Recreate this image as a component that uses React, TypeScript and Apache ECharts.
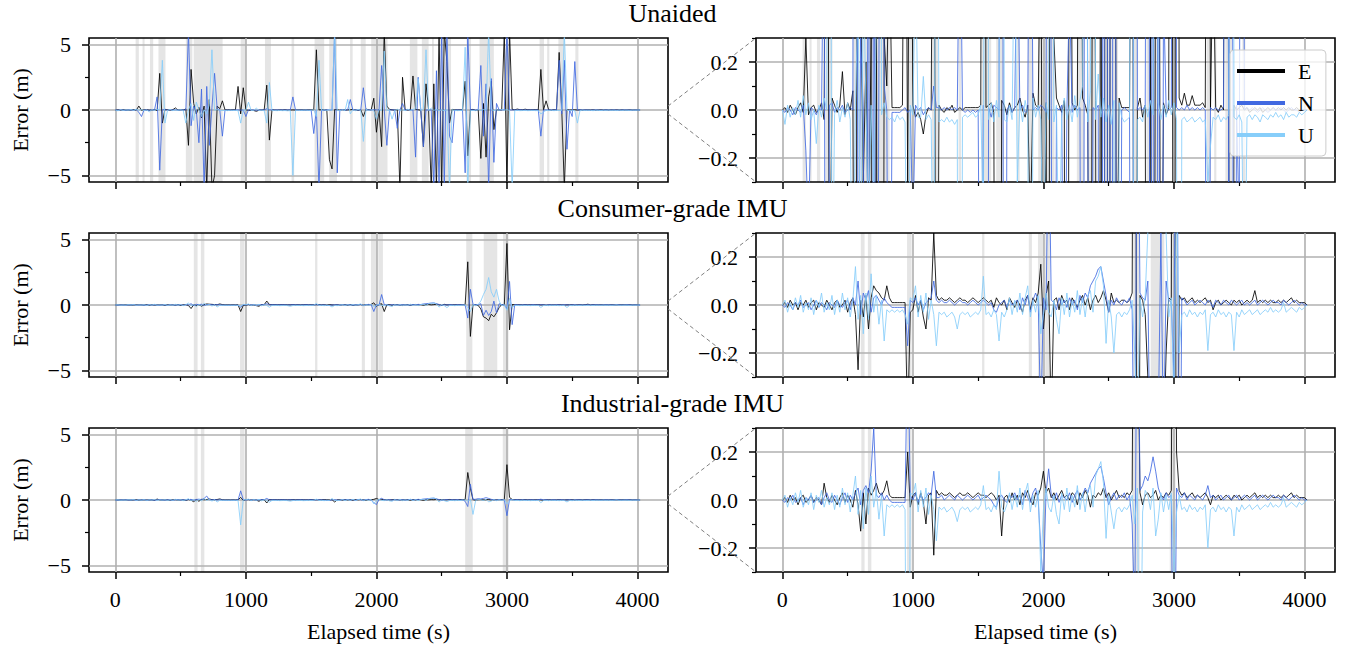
import React, { useEffect, useRef } from 'react';
import * as echarts from 'echarts';

// ---------- data ----------
const TIME_STEP = 20; // seconds between samples

const COMPONENTS = ['E', 'N', 'U'];
const COLORS = ['#000000', '#4169e1', '#87cefa'];
const TITLES = ['Unaided', 'Consumer-grade IMU', 'Industrial-grade IMU'];

const X_MIN = -202;
const X_MAX = 4234;
const X_MAJOR = [0, 1000, 2000, 3000, 4000];
const X_MINOR = [500, 1500, 2500, 3500];

const WIDE_RANGE = [-5.5, 5.5];
const WIDE_MAJOR = [-5, 0, 5];
const WIDE_MINOR = [-2.5, 2.5];
const ZOOM_RANGE = [-0.3, 0.3];
const ZOOM_MAJOR = [-0.2, 0, 0.2];
const ZOOM_MINOR = [-0.3, -0.1, 0.1, 0.3];

const UNAIDED_E = [
  0, 0.01, -0.01, 0.02, 0, -0.02, 0.01, 0.03, -0.01, 0.3,
  -0.02, 0.01, 0.02, -0.01, 0, 0.03, -0.04, 2.8, -1.0, 0.05,
  0.02, -0.01, 0.02, 0.16, -0.02, 0.03, 0, 0.08, -2.7, 3.1,
  0.5, -0.3, 0.2, -0.6, 0.3, -6, 0.8, -6, -5, 0.3,
  0.1, 0.7, 0.01, 0.01, 0.01, 0.01, 0.02, 1.8, -0.3, 1.7,
  0.02, -0.03, -0.01, -0.04, -0.1, -0.02, 0.01, 0, 1.9, -2.3,
  0.02, 0, -0.01, 0.01, 0, 0.02, -0.01, 0, 0.01, 0,
  0.01, 0.01, 0.01, 0.01, 0.01, 0.01, 0.02, 4.6, 0.01, 0.02,
  0.03, -0.01, -3.8, -4.5, 0.04, 0.02, -0.02, 0.03, -0.01, 0.01,
  0.02, 0.05, 0, -0.03, 0.02, -0.5, 0.07, 0.02, 0.01, 0.9,
  -1.7, 0.03, -2.8, 6, 0.3, 0.05, 0.02, -0.01, 0.04, -6,
  2.5, 0.03, 0, 0.02, 2.6, 0.05, 0.02, -0.02, -2.8, 2.0,
  0.04, -6, 2.0, -6, 6, -6, 6, 3.7, -1.0, 0.05,
  0.01, 0.01, 0.01, 0.01, 2.2, -3.5, 0.01, 0.05, -0.03, 0.02,
  -3.7, 0.5, -3.6, 1.0, 2.2, -1.5, 0.03, -0.02, 0.01, 6,
  -6, 6, 0.05, 0.02, 0.07, 0.02, 0.02, 0.06, 0.02, 0.02,
  0.02, 0.03, 0.01, 3.1, 0, 0.7, 0.01, -0.01, 0.02, 0,
  4.4, 0.03, -6, 0.02, 0, 0.01, 0.02, 0, 0.01, -0.01,
  0, 0.01, 0, 0.01, -0.01, 0, 0.01, 0, 0.01, 0,
  0.01, 0, 0.01, 0, 0.01, 0, 0, 0.01, 0, 0,
  0, 0,
];
const UNAIDED_N = [
  0, -0.01, 0.01, 0, -0.02, 0.01, 0, -0.01, 0.02, -0.17,
  -0.5, 0.01, 0, -0.02, 0.01, 0, 1.0, -4.6, 0.02, 0.03,
  -0.01, 0.01, 0, 0.02, -0.01, 0, 0.01, 0, 6, -1.2,
  0.3, 0, -2.5, 1.6, -6, 1.8, -2.7, 0.2, 2.8, 0.1,
  0, -2.0, -0.01, -0.01, -0.01, -0.01, 0, 0.01, -0.01, 0,
  -0.5, 0.02, 0, 0.01, -0.02, 0, 0.01, 0, 0.1, 0.01,
  0.01, 0, 0.01, 0, 0.01, 0, 0.01, 0, 1.0, 0,
  -0.01, 0, -0.01, 0, -0.01, 0, -1.8, 0.02, -6, 0.01,
  -0.03, 0.02, 0.01, 0, 6, -4.8, 0, 0.02, -0.01, 0.01,
  0.8, 0, 0.02, -0.01, 0, 1.7, 0, 0.01, 0, 0.02,
  0.01, -0.01, 3.4, 0.02, -2.7, 0.01, 0, 0.02, -1.4, 0,
  0.5, -0.01, 0.02, 0, 0.01, -3.6, 2.5, 0, -2.8, 0.01,
  0, 0.02, -6, 3.0, -6, 6, -6, 6, -2.0, -2.5,
  0, 0.01, 0, -0.01, -4.8, 6, 0, 0.01, 0, 0.02,
  3.4, -2.0, 2.0, -6, 2.4, -4.0, 0.5, 0.01, 0, 0.01,
  6, 0.01, 0, 0.01, 0, 0.02, 0, 0.01, 0, 0.01,
  0, 0.01, 0, -2.0, 0.01, 0, 0.01, 0, 0, 0.01,
  3.8, -0.3, 3.8, -3.0, 0.02, -0.5, 3.7, 0, 0.01, 0,
  0.01, 0, -0.01, 0, 0.01, 0, -0.01, 0, 0.01, 0,
  0, 0.01, 0, -0.01, 0, 0.01, 0, 0, -0.01, 0,
  0, 0,
];
const UNAIDED_U = [
  0, -0.06, 0.02, -0.03, 0.01, -0.02, 0.04, -0.03, 0.06, -0.02,
  0.03, -0.04, 0, -0.14, 0.02, -0.03, 0.05, 0, 3.8, -1.0,
  -0.02, 0.04, -0.05, 0.01, -0.03, 0.03, -0.04, -1.0, 0.02, 0.5,
  -0.8, 0.6, 0.03, -0.5, 0.02, -0.3, 0.4, 4.6, -0.02, 0.03,
  -0.03, -0.04, -0.03, -0.05, -0.02, -0.04, -0.03, -0.05, -1.0, 0.02,
  -0.02, 0.6, -0.03, -0.03, 0.14, -0.04, -0.02, -0.04, -1.0, 2.1,
  -0.05, -0.04, -0.05, -0.03, -0.05, -0.04, -0.06, -0.04, -5, -0.03,
  -0.02, -0.03, -0.02, -0.01, -0.03, -0.02, 0.02, -0.5, 3.8, -0.04,
  0.03, -0.05, 0.04, -0.03, 6, -0.04, -0.05, 0.02, -0.04, 0.8,
  -0.3, 0.03, -0.05, 0.04, -0.02, -2.4, 0.05, -0.03, 0.02, -0.04,
  -0.7, 0.03, -0.04, 4.5, -0.05, 0.02, -0.7, -0.03, 0.05, -0.04,
  0.02, -0.05, 0.06, -0.03, 0.04, 0.1, 2.4, -0.05, 0.08, 4.6,
  -0.04, 0.15, -0.03, 0.05, -0.05, 0.02, -0.06, 0.04, -6, 0.03,
  -0.03, -0.05, -0.04, -0.03, 4.8, -6, -0.04, -0.03, -0.05, 0.02,
  -0.03, 0.04, -0.02, 6, 0.03, -0.04, 0.02, -0.03, 0.04, -0.02,
  0.03, -0.04, -6, -0.04, -0.03, -0.05, -0.04, -0.03, -0.05, -0.04,
  -0.03, -0.05, -0.04, -0.3, -0.15, -0.03, -0.04, -0.02, -0.05, -0.03,
  -0.04, -0.02, 6, -0.03, -0.04, -0.02, -0.05, -1.0, -0.03, -0.02,
  -0.04, -0.02, -0.03, -0.05, -0.02, -0.03, -0.04, -0.02, -0.03, -0.01,
  -0.03, -0.02, -0.04, -0.01, -0.03, -0.02, -0.02, -0.03, -0.01, -0.02,
  -0.01, 0,
];

const CONSUMER_E = [
  0, 0.01, -0.01, 0.02, 0, 0.01, -0.02, 0.01, 0, 0.02,
  -0.01, 0.01, 0.02, -0.02, 0.01, 0, -0.01, 0.02, 0, -0.02,
  0.01, 0.02, -0.01, 0, 0.02, -0.03, 0.01, 0.03, -0.04, -0.27,
  0.02, -0.05, 0.04, -0.1, 0.03, 0.08, 0.06, 0.05, 0.03, 0.02,
  0.08, 0.03, 0.01, 0.01, 0.01, 0.01, 0.01, 0.01, -0.5, -0.03,
  -0.02, 0.04, -0.03, 0.02, -0.05, -0.1, 0.03, 0.02, 0.3, 0.04,
  0.02, 0.03, 0.02, 0.02, 0.03, 0.02, 0.01, 0.02, 0.03, 0.02,
  0.02, 0.01, 0.02, 0.03, 0.02, 0.01, 0.02, 0.03, 0.02, 0.01,
  0.02, -0.01, 0.03, 0.01, 0, 0.02, -0.02, 0.03, 0.01, -0.01,
  0.02, 0, -0.03, 0.02, 0.04, -0.02, 0.03, 0.01, 0.05, 0.17,
  -0.1, 0.04, 0.1, -0.5, 0.02, 0.03, -0.02, 0.04, 0.01, 0.02,
  -0.02, 0.03, 0.01, -0.01, 0.02, 0.04, 0, 0.03, -0.02, 0.02,
  0.04, 0.01, 0.03, 0.06, 0.02, -0.03, 0.05, 0.01, 0.02, 0.01,
  0.02, 0.02, 0.01, 0.02, 0.05, 3.3, -2.4, 0.04, 0.02, -0.04,
  -0.3, -0.9, -1.0, -1.2, -0.7, -0.9, -0.6, -0.2, 0.03, 0.02,
  4.7, -1.9, 0.04, 0.02, 0.03, 0.01, 0.02, 0.03, 0.01, 0.02,
  0.01, 0.02, 0.03, 0.01, 0.02, -0.02, 0.01, 0.02, 0, 0.01,
  0.02, 0.01, 0, 0.02, 0.01, 0.02, 0, 0.01, 0.02, 0.01,
  0.02, 0.06, 0.01, 0.02, 0.01, 0.02, 0.01, 0.02, 0.01, 0.01,
  0.02, 0.01, 0.02, 0.01, 0.02, 0.03, 0.01, 0.02, 0.01, 0.01,
  0.01, 0,
];
const CONSUMER_N = [
  0, -0.01, 0.01, 0, -0.02, 0.01, 0, 0.02, -0.01, 0,
  0.01, -0.02, 0, 0.02, -0.01, 0.01, 0, -0.02, 0.01, 0,
  -0.01, 0.02, 0, -0.01, 0.01, 0.02, -0.02, 0.03, 0, 0.1,
  -0.04, 0.05, 0.02, 0.06, -0.03, 0.03, 0.04, 0.02, 0, 0.03,
  0.01, 0, -0.01, -0.01, -0.01, -0.01, -0.01, -0.01, -0.17, 0.02,
  0.01, 0.03, 0, 0.02, -0.02, 0.01, 0.02, 0.03, 0.1, 0.02,
  0.01, 0.02, 0.01, 0.01, 0.02, 0.01, 0, 0.01, 0.02, 0.01,
  0.01, 0, 0.01, 0.02, 0.01, 0, 0.01, 0.02, 0.01, 0,
  0.01, -0.02, -0.03, 0, 0.01, 0.02, -0.01, 0.02, 0, 0.01,
  0.02, -0.02, 0.03, 0, 0.04, -0.03, 0.02, 0.05, 0.02, -0.5,
  0.03, -0.02, 0.8, 0.02, 0.01, -0.02, 0.03, 0, 0.02, -0.01,
  0.03, 0, 0.02, -0.02, 0.04, 0.01, 0.05, 0.03, 0.08, 0.1,
  0.12, 0.15, 0.16, 0.1, 0.04, -0.03, 0.02, 0, 0.03, 0.01,
  0, 0.02, 0.01, 0.03, -0.02, -1.0, 1.2, 0.05, 0.03, 0.02,
  0.1, -0.8, -0.4, -0.8, -0.5, 0.3, -0.6, 0.1, 0.02, 0.01,
  -0.3, 1.8, -1.5, 0.03, 0.02, 0, 0.01, 0.02, 0, 0.01,
  0.02, 0.01, 0, 0.02, 0.01, -0.01, 0.02, 0.01, 0, 0.02,
  0.01, 0, 0.02, 0.01, 0, 0.01, 0.02, 0, 0.01, 0,
  0.01, 0.02, 0, 0.01, 0.02, 0.01, 0, 0.01, 0.02, 0.01,
  0.01, 0, 0.02, 0.01, 0, 0.01, 0.02, 0.01, 0, 0.01,
  0, 0,
];
const CONSUMER_U = [
  0, 0.02, -0.03, 0.01, -0.02, 0.03, -0.01, 0.04, -0.03, 0.01,
  -0.02, 0.03, -0.04, 0.02, -0.01, 0.05, -0.03, 0.01, -0.02, 0.04,
  -0.04, 0.02, -0.03, 0.05, -0.02, 0.03, -0.05, 0.02, 0.16, -0.06,
  0.04, -0.12, 0.05, -0.06, 0.13, -0.03, 0.04, -0.08, 0.02, -0.15,
  -0.02, -0.03, -0.02, -0.03, -0.02, -0.03, -0.02, -0.04, -0.08, 0.03,
  0.02, 0.08, -0.05, 0.04, -0.03, 0.05, -0.06, 0.02, -0.04, -0.17,
  -0.03, -0.04, -0.03, -0.05, -0.04, -0.03, -0.05, -0.1, -0.04, -0.03,
  -0.04, -0.03, -0.05, -0.04, -0.03, -0.04, -0.02, 0.12, -0.04, -0.03,
  -0.05, -0.02, -0.04, -0.15, -0.03, -0.05, -0.02, 0.03, -0.04, 0.02,
  -0.03, 0.05, -0.04, 0.03, 0.08, -0.05, 0.02, -0.03, 0.04, -0.12,
  -0.04, 0.05, -0.03, -0.05, 0.02, -0.06, -0.12, 0.03, -0.04, 0.05,
  -0.05, 0.02, -0.03, 0.06, -0.04, 0.03, -0.05, 0.04, 0.06, -0.03,
  0.1, 0.12, 0.16, 0.08, -0.16, 0.02, -0.05, -0.2, -0.04, -0.03,
  -0.05, -0.03, -0.04, -0.02, 0.02, -0.2, -0.5, 0.03, -0.05, 0.04,
  0.3, 0.8, 1.2, 2.1, 1.0, 0.6, 1.2, 0.3, -0.05, 0.03,
  -0.4, 0.5, -0.2, -0.04, -0.03, -0.05, -0.02, -0.04, -0.03, -0.05,
  -0.03, -0.04, -0.02, -0.19, -0.04, -0.03, -0.05, -0.02, -0.04, -0.03,
  -0.05, -0.03, -0.04, -0.19, -0.03, -0.05, -0.02, -0.04, -0.03, -0.02,
  -0.04, -0.03, -0.02, -0.04, -0.03, -0.02, -0.03, -0.01, -0.03, -0.02,
  -0.03, -0.02, 0.01, -0.03, -0.02, -0.01, -0.02, -0.03, -0.01, -0.02,
  -0.01, 0,
];

const INDUSTRIAL_E = [
  0, 0.01, -0.01, 0.02, 0, 0.01, -0.02, 0.01, 0.02, -0.01,
  0, 0.02, -0.01, 0.01, 0, -0.02, 0.07, 0.01, -0.01, 0.02,
  0, -0.02, 0.01, 0.03, -0.01, 0.02, 0, -0.03, 0.04, -0.02,
  -0.13, 0.03, -0.1, 0.05, 0.02, 0.04, 0.07, 0.03, 0.02, 0.04,
  0.08, 0.02, 0.01, 0.01, 0.01, 0.01, 0.01, 0.01, 0.2, -0.03,
  0.02, 0.03, -0.02, 0.03, -0.01, -0.1, 0.02, 0.03, -0.23, 0.04,
  0.02, 0.03, 0.02, 0.02, 0.03, 0.02, 0.01, 0.02, 0.03, 0.02,
  0.02, 0.03, 0.02, 0.01, 0.02, 0.03, 0.02, 0.02, 0.01, 0.02,
  0.03, 0.02, 0, 0.02, -0.15, 0.01, 0.02, -0.01, 0.03, 0,
  0.02, -0.02, 0.03, 0.01, 0.04, 0, -0.02, 0.03, 0.02, 0.05,
  0.12, 0.03, 0.05, 0.01, 0.03, 0, 0.02, 0.04, 0.01, 0.02,
  0, 0.03, 0.02, -0.02, 0.03, 0.01, 0.04, 0.02, -0.03, 0.02,
  0.01, 0.03, 0.02, 0.05, 0.01, 0.03, 0, 0.02, 0.04, 0.01,
  0.02, 0.01, 0.03, 0.02, 0.04, 2.1, 0.9, 0.03, -0.02, 0.02,
  0.03, 0.01, 0.02, 0.04, 0, 0.02, 0.01, 0.03, 0.02, 0.04,
  2.7, 0.2, 0.04, 0.02, 0.03, 0.01, 0.02, 0.03, 0.01, 0.02,
  0.01, 0.02, 0.03, 0.01, -0.02, 0.02, 0.01, 0.02, 0, 0.01,
  0.02, 0.01, 0, 0.02, 0.01, 0.02, 0, 0.01, 0.02, 0.01,
  0.02, 0.03, 0.01, 0.02, 0.01, 0.02, 0.01, 0.02, 0.01, 0.01,
  0.02, 0.01, 0.02, 0.01, 0.02, 0.03, 0.01, 0.02, 0.01, 0.01,
  0.01, 0,
];
const INDUSTRIAL_N = [
  0, -0.01, 0.01, 0, 0.02, -0.01, 0, 0.01, -0.02, 0.01,
  0, 0.02, -0.01, 0, 0.01, -0.02, 0.01, 0.03, 0, -0.01,
  0.02, 0, -0.02, 0.01, 0.03, -0.01, 0.02, 0, 0.03, 0.05,
  -0.02, 0.04, 0.06, 0.03, 0.12, 0.3, 0.02, 0.01, 0.03, 0,
  0.02, 0, -0.01, -0.01, -0.01, -0.01, -0.01, -0.01, 0.7, 0.02,
  0, 0.03, -0.01, 0.02, 0, 0.01, 0.03, 0.02, 0.12, 0.01,
  0.01, 0.02, 0, 0.01, 0.02, 0.01, 0, 0.02, 0.01, 0,
  0.01, 0.02, 0.01, 0, 0.01, 0.02, 0, 0.01, 0.02, 0.01,
  0, -0.02, -0.03, 0.01, 0.02, 0, -0.01, 0.02, 0.01, 0.03,
  0, 0.02, -0.02, 0.04, 0.01, -0.01, 0.03, 0.05, 0, -0.2,
  -0.35, 0.03, 0.13, 0.02, 0, 0.03, -0.01, 0.02, 0.01, 0,
  0.03, -0.01, 0.02, 0.04, 0, 0.02, 0.05, 0.03, 0.07, 0.09,
  0.11, 0.13, 0.14, 0.09, 0.03, -0.02, 0.01, 0.03, 0, 0.02,
  0.01, 0.03, 0, 0.02, -0.1, -0.5, 1.2, 0.04, 0.06, 0.1,
  0.08, 0.12, 0.18, 0.12, 0.05, 0.02, 0, 0.03, 0.01, 0.02,
  -1.2, 0.05, 0.02, 0.01, 0.03, 0, 0.02, 0.01, 0, 0.02,
  0.01, 0, 0.02, 0.06, 0.01, 0.02, 0, 0.01, 0.02, 0,
  0.01, 0.02, 0, 0.01, 0.02, 0, 0.01, 0.02, 0.01, 0,
  0.01, 0.02, 0, 0.01, 0.02, 0.01, 0, 0.01, 0.02, 0.01,
  0.01, 0, 0.02, 0.01, 0, 0.01, 0.02, 0.01, 0, 0.01,
  0, 0,
];
const INDUSTRIAL_U = [
  0, 0.02, -0.03, 0.01, -0.02, 0.03, -0.01, 0.04, -0.03, 0.01,
  -0.02, 0.03, -0.04, 0.02, -0.01, 0.04, -0.03, 0.01, -0.02, 0.03,
  -0.04, 0.02, -0.03, 0.05, -0.02, 0.03, -0.05, 0.02, 0.1, -0.06,
  0.04, -0.12, 0.05, -0.06, 0.1, -0.03, 0.04, -0.08, 0.02, -0.15,
  -0.02, -0.03, -0.02, -0.03, -0.02, -0.03, -0.02, -0.04, -1.9, 0.03,
  0.02, 0.07, -0.05, 0.04, -0.03, 0.05, -0.06, 0.02, -0.04, -0.17,
  -0.03, -0.04, -0.03, -0.05, -0.04, -0.03, -0.05, -0.09, -0.04, -0.03,
  -0.04, -0.03, -0.05, -0.04, -0.03, -0.04, -0.02, 0.06, -0.04, -0.03,
  -0.05, -0.02, -0.04, 0.12, -0.03, -0.05, -0.02, 0.03, -0.04, 0.02,
  -0.03, 0.05, -0.04, 0.03, 0.07, -0.05, 0.02, -0.03, 0.04, -0.3,
  -0.04, 0.05, -0.03, -0.05, 0.02, -0.06, -0.1, 0.03, -0.04, 0.05,
  -0.05, 0.02, -0.03, 0.06, -0.04, 0.03, -0.05, 0.04, 0.06, -0.03,
  0.1, 0.13, 0.16, 0.07, -0.16, 0.02, -0.05, -0.12, -0.04, -0.03,
  -0.05, -0.03, -0.04, -0.02, 0.02, -0.1, 0.05, -1.1, -0.05, 0.04,
  0.02, -0.04, 0.05, -0.15, -0.08, 0.03, -0.05, 0.02, -0.04, 0.03,
  -0.3, -0.05, 0.02, -0.04, -0.03, -0.05, -0.02, -0.04, -0.03, -0.05,
  -0.03, -0.04, -0.02, -0.2, -0.04, -0.03, -0.05, -0.02, -0.04, -0.03,
  -0.05, -0.03, -0.04, -0.15, -0.03, -0.05, -0.02, -0.04, -0.03, -0.02,
  -0.04, -0.03, -0.02, -0.04, -0.03, -0.02, -0.03, -0.01, -0.03, -0.02,
  -0.03, -0.02, 0.01, -0.03, -0.02, -0.01, -0.02, -0.03, -0.01, -0.02,
  -0.01, 0,
];

// GNSS outage intervals (s), drawn as grey bands
const UNAIDED_GAPS = [
  [155, 180], [208, 224], [265, 290], [330, 384], [540, 590], [600, 822],
  [960, 1000], [1146, 1192], [1350, 1370], [1526, 1600], [1638, 1698],
  [1798, 1818], [1880, 1918], [1960, 2085], [2256, 2314], [2348, 2400],
  [2426, 2440], [2486, 2572], [2690, 2725], [2790, 2900], [3250, 3284],
  [3308, 3325], [3394, 3445], [3524, 3548],
];
const CONSUMER_GAPS = [
  [601, 630], [655, 682], [955, 990], [1530, 1548], [1888, 1912],
  [1958, 2002], [2014, 2050], [2688, 2735], [2822, 2926], [2970, 3012],
];
const INDUSTRIAL_GAPS = [
  [605, 630], [655, 682], [955, 990], [2680, 2738], [2968, 3012],
];

const ROWS = [
  { title: TITLES[0], series: [UNAIDED_E, UNAIDED_N, UNAIDED_U], gaps: UNAIDED_GAPS },
  { title: TITLES[1], series: [CONSUMER_E, CONSUMER_N, CONSUMER_U], gaps: CONSUMER_GAPS },
  { title: TITLES[2], series: [INDUSTRIAL_E, INDUSTRIAL_N, INDUSTRIAL_U], gaps: INDUSTRIAL_GAPS },
];

// ---------- layout ----------
const FONT = '"Liberation Serif", "DejaVu Serif", serif';
const ROW_TOPS = [38, 233, 428];
const PANEL_H = 144;
const PANEL_W = 579;
const COL_LEFT = [89, 756];

const plainFmt = (v: number) => String(Math.round(v));
const minusFmt = (v: number) => (v < 0 ? '\u2212' : '') + String(Math.abs(v));
const zoomFmt = (v: number) => (v < -1e-9 ? '\u2212' : '') + Math.abs(v).toFixed(1);

function buildOption() {
  const grid: any[] = [];
  const xAxis: any[] = [];
  const yAxis: any[] = [];
  const series: any[] = [];
  const title: any[] = [];
  const refs: any[] = [];

  ROWS.forEach((row, r) => {
    title.push({
      text: row.title,
      left: 'center',
      top: ROW_TOPS[r] - 38,
      padding: 0,
      textStyle: { fontFamily: FONT, fontSize: 26, fontWeight: 'normal', color: '#000' },
    });
    for (let c = 0; c < 2; c++) {
      const g = grid.length;
      grid.push({
        left: COL_LEFT[c], top: ROW_TOPS[r], width: PANEL_W, height: PANEL_H,
        show: true, borderColor: '#000', borderWidth: 1.6, backgroundColor: 'transparent',
        containLabel: false,
      });
      const range = c === 0 ? WIDE_RANGE : ZOOM_RANGE;
      const major = c === 0 ? WIDE_MAJOR : ZOOM_MAJOR;
      const minor = c === 0 ? WIDE_MINOR : ZOOM_MINOR;
      const isBottom = r === ROWS.length - 1;
      const xi = xAxis.length;
      xAxis.push({
        type: 'value', gridIndex: g, min: X_MIN, max: X_MAX, position: 'bottom',
        axisLine: { show: false, onZero: false },
        axisTick: { show: true, length: 7, lineStyle: { color: '#000', width: 1.5 }, customValues: X_MAJOR },
        axisLabel: {
          show: isBottom, customValues: X_MAJOR, margin: 16, formatter: plainFmt,
          fontFamily: FONT, fontSize: 22, color: '#000',
        },
        splitLine: { show: true, lineStyle: { color: '#b0b0b0', width: 1.6 } },
        name: isBottom ? 'Elapsed time (s)' : '',
        nameLocation: 'middle', nameGap: 48,
        nameTextStyle: { fontFamily: FONT, fontSize: 22, color: '#000' },
      });
      xAxis.push({
        type: 'value', gridIndex: g, min: X_MIN, max: X_MAX, position: 'bottom',
        axisLine: { show: false, onZero: false },
        axisTick: { show: true, length: 4, lineStyle: { color: '#000', width: 1.2 }, customValues: X_MINOR },
        axisLabel: { show: false },
        splitLine: { show: false },
      });
      const yi = yAxis.length;
      yAxis.push({
        type: 'value', gridIndex: g, min: range[0], max: range[1], position: 'left',
        axisLine: { show: false, onZero: false },
        axisTick: { show: true, length: 7, lineStyle: { color: '#000', width: 1.5 }, customValues: major },
        axisLabel: {
          show: true, customValues: major, margin: 18,
          formatter: c === 0 ? minusFmt : zoomFmt,
          fontFamily: FONT, fontSize: 22, color: '#000',
        },
        splitLine: { show: true, lineStyle: { color: '#b0b0b0', width: 1.6 } },
        name: c === 0 ? 'Error (m)' : '',
        nameLocation: 'middle', nameGap: 58, nameRotate: 90,
        nameTextStyle: { fontFamily: FONT, fontSize: 22, color: '#000' },
      });
      yAxis.push({
        type: 'value', gridIndex: g, min: range[0], max: range[1], position: 'left',
        axisLine: { show: false, onZero: false },
        axisTick: { show: true, length: 4, lineStyle: { color: '#000', width: 1.2 }, customValues: minor },
        axisLabel: { show: false },
        splitLine: { show: false },
      });
      refs.push({ r, c, xi, yi });

      series.push({
        type: 'line', name: 'gaps', xAxisIndex: xi, yAxisIndex: yi, data: [],
        silent: true, z: 1,
        markArea: {
          silent: true, z: -1,
          itemStyle: { color: 'rgba(0,0,0,0.1)' },
          label: { show: false },
          data: row.gaps.map(([a, b]) => [{ xAxis: a }, { xAxis: b }]),
        },
      });
      row.series.forEach((vals, k) => {
        series.push({
          type: 'line', name: COMPONENTS[k], xAxisIndex: xi, yAxisIndex: yi,
          data: vals.map((v, i) => [i * TIME_STEP, v]),
          showSymbol: false, symbol: 'none', clip: true, silent: true,
          lineStyle: { color: COLORS[k], width: 0.85 },
          itemStyle: { color: COLORS[k] },
          emphasis: { disabled: true },
          z: 2 + k,
        });
      });
    }
  });

  return {
    option: {
      animation: false,
      backgroundColor: '#ffffff',
      title, grid, xAxis, yAxis, series,
      legend: {
        data: COMPONENTS, orient: 'vertical', left: 1230, top: 50,
        itemWidth: 48, itemHeight: 4, itemGap: 10, icon: 'rect',
        backgroundColor: 'rgba(255,255,255,0.8)', borderColor: '#cccccc', borderWidth: 1, borderRadius: 4,
        padding: [10, 12, 10, 7], selectedMode: false,
        textStyle: { fontFamily: FONT, fontSize: 22, color: '#000', lineHeight: 20, padding: [0, 0, 0, 8] },
      },
    },
    refs,
  };
}

export default function App() {
  const ref = useRef<HTMLDivElement>(null);
  useEffect(() => {
    if (!ref.current) return;
    const chart = echarts.init(ref.current, null, { renderer: 'svg' });
    const { option, refs } = buildOption();
    chart.setOption(option as any);
    // zoom-indicator connectors between each wide panel and its zoomed twin
    const graphic: any[] = [];
    for (let r = 0; r < ROWS.length; r++) {
      const L = refs.find((q: any) => q.r === r && q.c === 0);
      const R = refs.find((q: any) => q.r === r && q.c === 1);
      try {
        const a1 = chart.convertToPixel({ xAxisIndex: L.xi, yAxisIndex: L.yi } as any, [X_MAX, ZOOM_RANGE[1]]) as number[];
        const a2 = chart.convertToPixel({ xAxisIndex: L.xi, yAxisIndex: L.yi } as any, [X_MAX, ZOOM_RANGE[0]]) as number[];
        const b1 = chart.convertToPixel({ xAxisIndex: R.xi, yAxisIndex: R.yi } as any, [X_MIN, ZOOM_RANGE[1]]) as number[];
        const b2 = chart.convertToPixel({ xAxisIndex: R.xi, yAxisIndex: R.yi } as any, [X_MIN, ZOOM_RANGE[0]]) as number[];
        [[a1, b1], [a2, b2]].forEach(([p, q]) => {
          graphic.push({
            type: 'line', silent: true, z: 10,
            shape: { x1: p[0], y1: p[1], x2: q[0], y2: q[1] },
            style: { stroke: '#808080', lineWidth: 1, lineDash: [4, 3] },
          });
        });
      } catch (e) {
        // ignore
      }
    }
    chart.setOption({ graphic });
    return () => chart.dispose();
  }, []);
  return (
    <div
      ref={ref}
      style={{ position: 'fixed', left: 0, top: 0, width: 1345, height: 647, background: '#fff' }}
    />
  );
}
